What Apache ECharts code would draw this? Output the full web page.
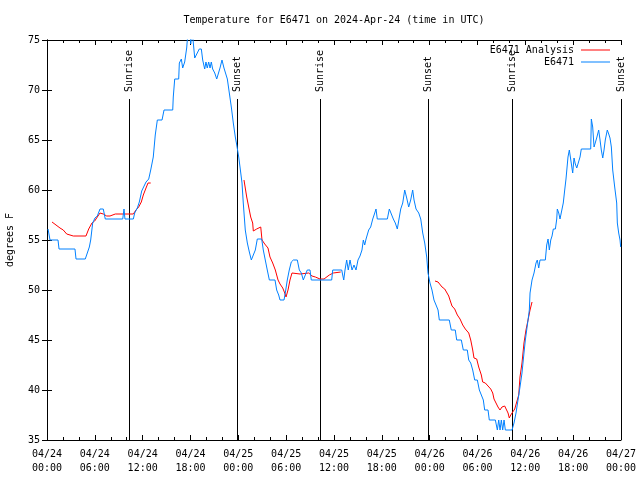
<!DOCTYPE html>
<html>
<head>
<meta charset="utf-8">
<script src="https://cdn.jsdelivr.net/npm/echarts@6/dist/echarts.min.js"></script>
<style>html,body{margin:0;padding:0;background:#fff}#c{width:640px;height:480px}</style>
</head>
<body>
<div id="c"></div>
<script>
// Hours since 2024-04-24 00:00 UTC
const blueHours = [0.13,0.38,1.38,1.51,2.76,3.51,3.64,4.80,4.98,5.31,5.48,5.73,6.02,6.31,6.65,7.06,7.31,9.50,9.66,9.78,10.83,11.0,11.33,11.58,11.88,12.42,12.76,13.01,13.33,13.58,13.84,14.43,14.68,15.77,15.84,16.02,16.52,16.6,16.85,17.02,17.27,17.52,17.65,17.94,18.03,18.2,18.53,18.85,19.1,19.36,19.53,19.78,19.94,20.1,20.28,20.45,20.61,20.78,21.04,21.29,21.54,21.7,21.95,22.2,22.37,22.62,22.87,23.12,23.37,23.62,23.8,24.05,24.21,24.46,24.62,24.87,25.13,25.38,25.63,25.88,26.13,26.38,26.93,27.13,27.38,27.63,27.89,28.6,28.81,29.06,29.23,29.73,29.89,30.14,30.39,30.64,30.9,31.4,31.65,31.9,32.15,32.4,32.65,32.99,33.15,35.71,35.84,36.97,37.09,37.22,37.38,37.59,37.79,38.01,38.26,38.51,38.76,39.01,39.26,39.51,39.68,39.85,40.02,40.35,40.6,40.86,41.11,41.27,41.43,42.69,42.94,43.19,43.44,43.69,43.94,44.19,44.37,44.62,44.87,45.12,45.37,45.62,45.87,46.04,46.29,46.63,46.88,47.13,47.38,47.63,47.79,48.04,48.29,48.54,48.8,49.05,49.21,50.46,50.71,51.21,51.39,51.97,52.22,52.72,52.9,53.15,53.4,53.65,53.98,54.23,54.48,54.73,54.9,55.32,55.48,56.24,56.49,56.66,56.83,56.99,57.16,57.33,57.49,58.33,58.58,58.83,59.08,59.33,59.58,59.83,60.0,60.17,60.34,60.5,60.59,60.84,61.09,61.34,61.5,61.68,61.84,62.51,62.68,62.85,63.01,63.19,63.35,63.51,63.77,63.94,64.01,64.19,64.35,64.6,64.76,64.94,65.1,65.35,65.52,65.77,65.94,66.11,66.27,66.45,66.7,66.86,67.02,68.2,68.28,68.45,68.62,68.87,68.95,69.2,69.37,69.53,69.71,69.87,70.03,70.28,70.46,70.62,70.79,70.96,71.21,71.46,71.54,71.71,71.88,71.96];
const blueTemps = [56.1,55.0,55.0,54.1,54.1,54.1,53.1,53.1,53.3,54.3,55.0,56.7,57.2,57.4,58.1,58.1,57.1,57.1,58.1,57.1,57.1,57.7,58.2,58.8,59.9,60.8,61.1,62.0,63.3,65.5,67.0,67.0,68.0,68.0,69.3,71.1,71.1,72.7,73.1,72.2,72.8,74.2,75.5,76.0,74.6,76.0,73.2,73.7,74.1,74.1,73.0,72.1,72.8,72.2,72.8,72.2,72.8,72.1,71.7,71.1,71.1,72.2,73.0,72.2,72.1,71.1,69.7,68.3,66.7,65.3,64.5,63.3,62.3,60.7,58.7,56.0,54.7,53.8,53.0,53.2,54.0,55.1,55.1,54.0,53.0,52.0,51.0,51.0,50.0,49.5,49.0,49.0,49.7,51.0,52.0,52.8,53.0,53.0,52.0,51.7,51.0,51.0,52.0,52.0,51.0,51.0,52.0,52.0,51.5,51.0,52.0,53.0,52.0,53.0,52.0,52.5,52.0,53.0,53.4,54.0,55.0,54.5,55.1,56.0,56.3,57.1,57.7,58.1,57.1,57.1,58.1,58.1,57.1,56.7,56.1,56.1,58.1,58.7,60.0,59.2,58.3,59.0,60.0,59.0,58.1,57.7,57.1,55.7,54.7,53.3,51.7,50.7,50.0,49.0,48.5,48.0,47.0,47.0,46.0,46.0,45.0,45.0,44.0,44.0,43.0,42.7,42.0,41.0,41.0,40.0,40.0,39.0,38.0,38.0,37.0,37.0,36.0,37.0,36.0,37.0,36.0,37.0,36.0,36.0,36.7,37.7,39.0,40.3,41.7,43.7,45.0,46.0,47.0,48.0,49.7,51.0,51.7,52.7,53.0,52.2,53.0,53.0,54.5,55.1,54.0,55.0,55.4,56.1,56.1,57.1,58.1,57.7,57.1,57.1,58.7,60.0,61.1,63.3,64.0,64.1,61.7,63.2,62.6,62.2,62.2,63.3,64.1,64.1,67.1,66.3,64.3,64.3,65.2,66.0,65.0,64.0,63.2,64.0,65.0,66.0,65.6,65.2,64.3,62.0,60.3,58.7,56.7,55.7,55.0,54.3];

// Analysis series; null temperature = gap between analysis runs
const redHours = [0.63,1.13,1.63,2.04,2.47,2.72,3.3,4.89,5.23,5.64,5.98,6.31,6.65,7.06,7.49,7.9,8.57,9.16,10.41,10.83,11.16,11.5,11.83,12.08,12.42,12.67,13.01,
  18.0,
  24.71,25.05,25.3,25.55,25.8,25.88,26.3,26.81,26.97,27.31,27.72,27.97,28.31,28.64,28.98,29.23,29.57,29.82,29.98,30.23,30.48,30.73,30.98,31.74,32.83,33.24,33.66,34.24,34.75,35.41,35.91,36.84,
  42.0,
  48.67,49.05,49.3,49.55,49.89,50.14,50.39,50.55,50.8,51.14,51.47,51.81,52.15,52.47,52.9,53.15,53.4,53.56,53.9,54.15,54.48,54.65,54.98,55.32,55.66,55.91,56.07,56.32,56.57,56.82,57.07,57.41,57.66,57.83,57.99,58.17,58.42,58.67,58.92,59.17,59.33,59.58,59.83,60.08,60.34,60.59,60.84];
const redTemps = [56.8,56.5,56.2,56.0,55.6,55.5,55.4,55.4,56.1,56.7,56.9,57.3,57.7,57.6,57.4,57.4,57.6,57.6,57.6,57.6,58.0,58.3,58.8,59.5,60.2,60.7,60.7,
  null,
  61.0,59.3,58.3,57.3,56.7,55.9,56.1,56.3,55.0,54.6,54.2,53.3,52.7,52.0,51.0,50.6,50.2,49.7,49.3,50.0,51.0,51.7,51.5,51.6,51.7,51.4,51.3,51.1,51.1,51.5,51.7,51.8,
  null,
  50.9,50.8,50.6,50.3,50.1,50.0,49.4,49.0,48.4,48.1,47.5,47.1,46.5,46.1,45.7,45.0,44.0,43.2,43.1,42.3,41.5,40.8,40.7,40.4,40.1,39.7,39.1,38.7,38.3,38.0,38.3,38.4,38.6,37.7,37.2,37.5,37.7,38.1,38.2,39.5,41.3,42.7,44.7,46.0,47.0,48.0,48.8];

const sunHours = [10.3, 23.8, 34.3, 47.85, 58.35, 71.97];
const sunLabels = ['Sunrise', 'Sunset', 'Sunrise', 'Sunset', 'Sunrise', 'Sunset'];

const FONT = '"DejaVu Sans Mono", "Liberation Mono", monospace';

function fmtX(v) {
  const day = 24 + Math.floor(v / 24);
  const hr = Math.round(v % 24);
  return '04/' + day + '\n' + (hr < 10 ? '0' : '') + hr + ':00';
}

const chart = echarts.init(document.getElementById('c'), null, {renderer: 'canvas'});
const axisLineBlack = {show: true, lineStyle: {color: '#000', width: 1}};
const option = {
  animation: false,
  backgroundColor: '#fff',
  title: {
    text: 'Temperature for E6471 on 2024-Apr-24 (time in UTC)',
    left: 334, top: 15, textAlign: 'center', padding: 0,
    textStyle: {fontFamily: FONT, fontSize: 10, fontWeight: 'normal', color: '#000'}
  },
  legend: {
    orient: 'vertical', right: 30, top: 45, align: 'right', padding: 0,
    itemWidth: 29, itemHeight: 1, itemGap: 2, icon: 'rect',
    textStyle: {fontFamily: FONT, fontSize: 10, color: '#000', padding: [0, 2, 0, 0]},
    data: ['E6471 Analysis', 'E6471']
  },
  grid: {left: 47, right: 19, top: 40, bottom: 40, containLabel: false, outerBoundsMode: 'none'},
  xAxis: [{
    type: 'value', min: 0, max: 72, interval: 6, position: 'bottom',
    axisLine: axisLineBlack,
    axisTick: {show: true, inside: true, length: 5, lineStyle: {color: '#000'}},
    minorTick: {show: true, splitNumber: 3, length: 3, lineStyle: {color: '#000'}},
    splitLine: {show: false},
    axisLabel: {formatter: fmtX, fontFamily: FONT, fontSize: 10, color: '#000', margin: 7, lineHeight: 14}
  }, {
    type: 'value', min: 0, max: 72, interval: 6, position: 'top',
    axisLine: axisLineBlack,
    axisTick: {show: true, inside: true, length: 5, lineStyle: {color: '#000'}},
    minorTick: {show: true, splitNumber: 3, length: 3, lineStyle: {color: '#000'}},
    splitLine: {show: false}, axisLabel: {show: false}
  }],
  yAxis: [{
    type: 'value', min: 35, max: 75, interval: 5, position: 'left',
    name: 'degrees F', nameLocation: 'middle', nameGap: 32,
    nameTextStyle: {fontFamily: FONT, fontSize: 10, color: '#000'},
    axisLine: axisLineBlack,
    axisTick: {show: true, inside: true, length: 5, lineStyle: {color: '#000'}},
    splitLine: {show: false},
    axisLabel: {fontFamily: FONT, fontSize: 10, color: '#000', margin: 7}
  }, {
    type: 'value', min: 35, max: 75, interval: 5, position: 'right',
    axisLine: axisLineBlack,
    axisTick: {show: true, inside: true, length: 5, lineStyle: {color: '#000'}},
    splitLine: {show: false}, axisLabel: {show: false}
  }],
  series: [{
    name: 'E6471 Analysis', type: 'line', color: '#ff0000',
    showSymbol: false, symbol: 'none', connectNulls: false, clip: true,
    lineStyle: {width: 1, color: '#ff0000'},
    data: redHours.map((h, i) => [h, redTemps[i] === null ? '-' : redTemps[i]]),
    z: 3
  }, {
    name: 'E6471', type: 'line', color: '#0080ff',
    showSymbol: false, symbol: 'none', clip: true,
    lineStyle: {width: 1, color: '#0080ff'},
    data: blueHours.map((h, i) => [h, blueTemps[i]]),
    z: 4
  }, {
    name: 'sun', type: 'custom', clip: false, z: 2,
    data: sunHours.map(h => [h]),
    renderItem: function (params, api) {
      const h = api.value(0);
      const p0 = api.coord([h, 35]);
      const p1 = api.coord([h, 69.1]);
      const x = Math.round(p0[0]) + 0.5;
      return {
        type: 'group',
        children: [{
          type: 'line',
          shape: {x1: x, y1: p0[1], x2: x, y2: p1[1]},
          style: {stroke: '#000', lineWidth: 1}
        }, {
          type: 'text', x: x, y: p1[1] - 7, rotation: Math.PI / 2,
          style: {text: sunLabels[params.dataIndex], align: 'left', verticalAlign: 'middle',
                  font: '10px ' + FONT, fill: '#000'}
        }]
      };
    }
  }]
};
chart.setOption(option);
</script>
</body>
</html>
